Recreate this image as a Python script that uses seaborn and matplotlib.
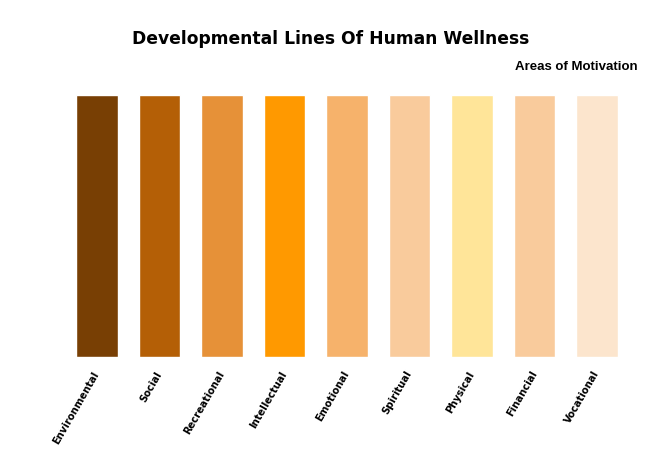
import matplotlib
matplotlib.use("Agg")
import matplotlib.pyplot as plt
import seaborn as sns
import pandas as pd

categories = ["Environmental", "Social", "Recreational", "Intellectual", "Emotional",
              "Spiritual", "Physical", "Financial", "Vocational"]
values = [1, 1, 1, 1, 1, 1, 1, 1, 1]
colors = ["#783f04", "#b45f06", "#e69138", "#ff9900", "#f6b26b",
          "#f9cb9c", "#ffe599", "#f9cb9c", "#fce5cd"]

sns.set_theme(style="white")
plt.rcParams['font.family'] = ['DejaVu Sans']
plt.rcParams['text.color'] = 'black'
plt.rcParams['xtick.color'] = 'black'

df = pd.DataFrame({"category": categories, "value": values})

fig = plt.figure(figsize=(6.62, 4.60), dpi=100)
ax = fig.add_axes([65.75 / 662, 1 - 358 / 460, 562.5 / 662, 262 / 460])
sns.barplot(data=df, x="category", y="value", hue="category", palette=colors,
            legend=False, width=0.665, ax=ax, saturation=1)

ax.set_xlim(-0.5, 8.5)
ax.set_ylim(0, 1)
ax.set_yticks([])
ax.set_xlabel("")
ax.set_ylabel("")
for s in ax.spines.values():
    s.set_visible(False)
ax.tick_params(axis="x", length=0, pad=10)
ax.set_xticks(range(len(categories)))
ax.set_xticklabels(categories, rotation=60, ha="right", va="center",
                   rotation_mode="anchor", fontsize=7.2, fontweight="bold",
                   color="black")

fig.text(331 / 662, 1 - 39 / 460, "Developmental Lines Of Human Wellness",
         ha="center", va="center", fontsize=12.3, fontweight="bold", color="black")
fig.text(638 / 662, 1 - 67 / 460, "Areas of Motivation", ha="right", va="center",
         fontsize=9.5, fontweight="bold", color="black",
         family=["Liberation Sans", "DejaVu Sans"])

fig.savefig("out.png", dpi=100)
